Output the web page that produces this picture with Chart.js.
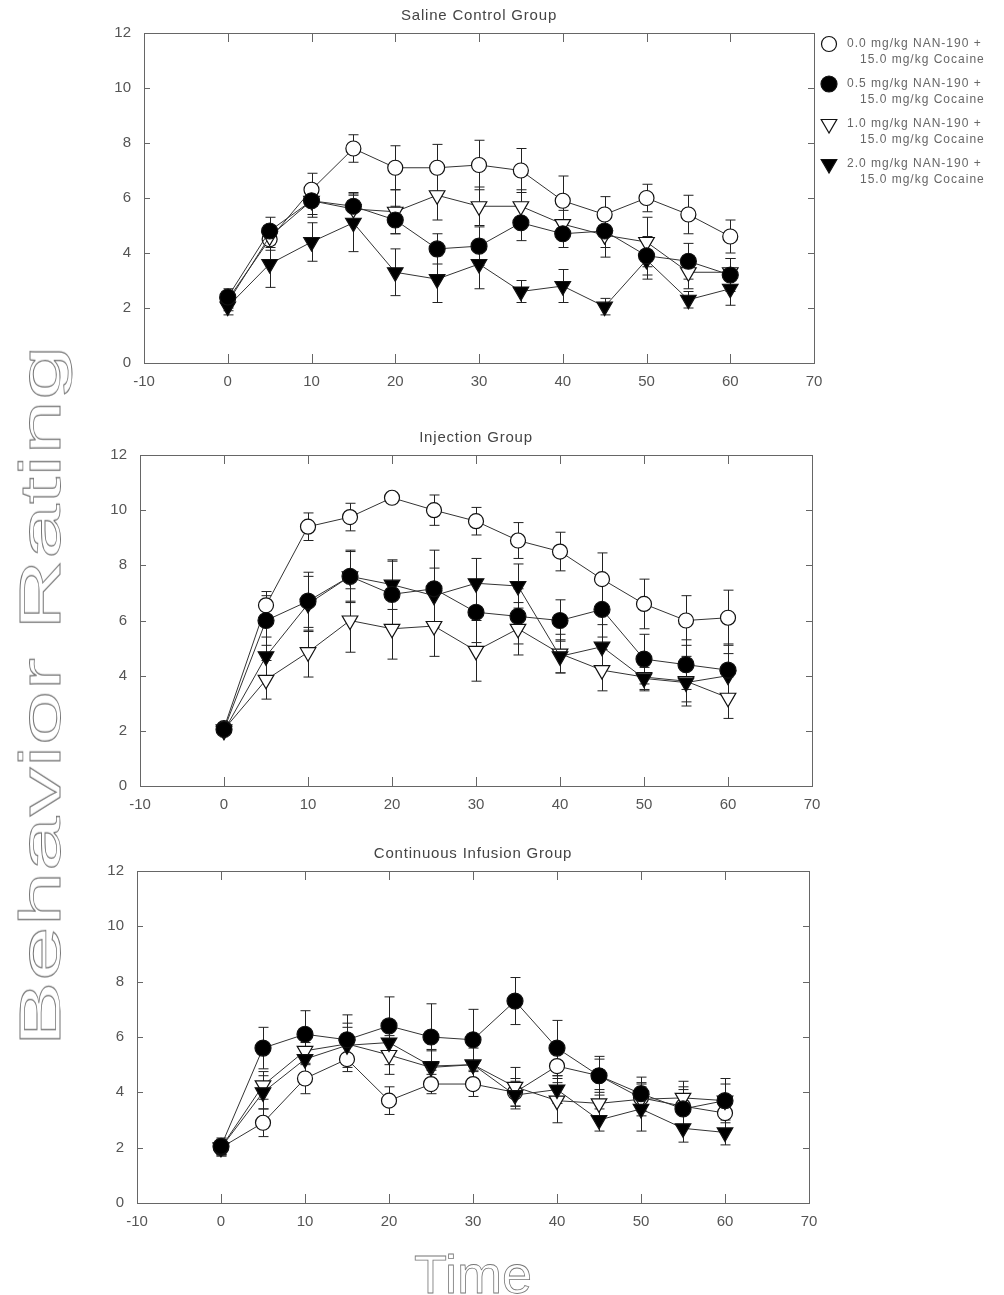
<!DOCTYPE html>
<html>
<head>
    <title>Behavior Rating by NAN-190 Dose</title>
    <script src="https://cdn.jsdelivr.net/npm/chart.js"></script>
    <style>
        body {
            margin: 0;
            background: #fff;
            font-family: 'Liberation Sans', Arial, sans-serif;
        }
        .page {
            position: relative;
            width: 1004px;
            height: 1295px;
            overflow: hidden;
        }
        canvas { position: absolute; left: 0; }
        .big-label {
            position: absolute;
            white-space: nowrap;
            color: transparent;
            -webkit-text-stroke: 0.8px #777;
        }
        #yTitle {
            left: 40px;
            top: 696px;
            font-size: 58px;
            line-height: 58px;
            transform: translate(-50%, -50%) rotate(-90deg) scaleX(1.7);
        }
        #xTitle {
            left: 473px;
            top: 1247px;
            font-size: 54px;
            line-height: 54px;
            transform: translateX(-50%);
        }
    </style>
</head>
<body>
<div class="page">
    <canvas id="salineChart" width="1004" height="400" style="top:0px"></canvas>
    <canvas id="injectionChart" width="1004" height="400" style="top:420px"></canvas>
    <canvas id="infusionChart" width="1004" height="400" style="top:835px"></canvas>
    <div class="big-label" id="yTitle">Behavior Rating</div>
    <div class="big-label" id="xTitle">Time</div>
</div>

<script>
    // time points (min)
    const times = [0, 5, 10, 15, 20, 25, 30, 35, 40, 45, 50, 55, 60];

    const panelTitles = ['Saline Control Group', 'Injection Group', 'Continuous Infusion Group'];
    const doseLabels = [
        ['0.0 mg/kg NAN-190 +', '15.0 mg/kg Cocaine'],
        ['0.5 mg/kg NAN-190 +', '15.0 mg/kg Cocaine'],
        ['1.0 mg/kg NAN-190 +', '15.0 mg/kg Cocaine'],
        ['2.0 mg/kg NAN-190 +', '15.0 mg/kg Cocaine']
    ];

    // Saline control group: means and SEM
    const saline00 = [2.3, 4.5, 6.3, 7.8, 7.1, 7.1, 7.2, 7.0, 5.9, 5.4, 6.0, 5.4, 4.6];
    const saline05 = [2.4, 4.8, 5.9, 5.7, 5.2, 4.15, 4.25, 5.1, 4.7, 4.8, 3.9, 3.7, 3.2];
    const saline10 = [2.2, 4.6, 5.9, 5.6, 5.5, 6.1, 5.7, 5.7, 5.05, 4.65, 4.4, 3.3, 3.3];
    const saline20 = [2.05, 3.6, 4.4, 5.1, 3.3, 3.05, 3.6, 2.6, 2.8, 2.05, 3.75, 2.3, 2.7];
    const salineErr00 = [0.3, 0.4, 0.6, 0.5, 0.8, 0.85, 0.9, 0.8, 0.9, 0.65, 0.5, 0.7, 0.6];
    const salineErr05 = [0.3, 0.5, 0.6, 0.5, 0.5, 0.55, 0.7, 0.65, 0.5, 0.6, 0.7, 0.65, 0.6];
    const salineErr10 = [0.3, 0.4, 0.5, 0.5, 0.8, 0.9, 0.7, 0.6, 0.5, 0.8, 0.9, 0.6, 0.5];
    const salineErr20 = [0.3, 0.85, 0.7, 1.05, 0.85, 0.85, 0.9, 0.4, 0.6, 0.3, 0.7, 0.3, 0.6];

    // Injection group
    const injection00 = [2.1, 6.55, 9.4, 9.75, 10.45, 10.0, 9.6, 8.9, 8.5, 7.5, 6.6, 6.0, 6.1];
    const injection05 = [2.05, 6.0, 6.7, 7.6, 6.95, 7.15, 6.3, 6.15, 6.0, 6.4, 4.6, 4.4, 4.2];
    const injection10 = [2.05, 3.85, 4.85, 6.0, 5.7, 5.8, 4.9, 5.7, 4.8, 4.2, 3.95, 3.8, 3.2];
    const injection20 = [2.0, 4.7, 6.6, 7.6, 7.3, 6.9, 7.35, 7.25, 4.7, 5.05, 3.9, 3.75, 4.0];
    const injectionErr00 = [0.1, 0.5, 0.5, 0.5, 0.15, 0.55, 0.5, 0.65, 0.7, 0.95, 0.9, 0.9, 1.0];
    const injectionErr05 = [0.1, 0.9, 1.05, 0.95, 1.2, 1.4, 1.1, 1.0, 0.75, 1.0, 0.9, 0.9, 0.95];
    const injectionErr10 = [0.1, 0.7, 0.9, 1.15, 1.1, 1.1, 1.1, 0.95, 0.7, 0.75, 0.5, 0.9, 0.75];
    const injectionErr20 = [0.1, 0.7, 1.0, 0.9, 0.9, 1.0, 0.9, 0.8, 0.6, 0.8, 0.4, 0.7, 0.8];

    // Continuous infusion group
    const infusion00 = [2.0, 2.9, 4.5, 5.2, 3.7, 4.3, 4.3, 4.0, 4.95, 4.6, 3.8, 3.5, 3.25];
    const infusion05 = [2.05, 5.6, 6.1, 5.9, 6.4, 6.0, 5.9, 7.3, 5.6, 4.6, 3.95, 3.4, 3.7];
    const infusion10 = [2.0, 4.25, 5.5, 5.75, 5.35, 4.9, 5.0, 4.2, 3.7, 3.6, 3.75, 3.8, 3.7];
    const infusion20 = [2.0, 4.0, 5.2, 5.7, 5.8, 4.95, 5.0, 3.9, 4.1, 3.0, 3.4, 2.7, 2.55];
    const infusionErr00 = [0.25, 0.5, 0.55, 0.45, 0.5, 0.35, 0.45, 0.5, 0.6, 0.6, 0.5, 0.7, 0.6];
    const infusionErr05 = [0.3, 0.75, 0.85, 0.9, 1.05, 1.2, 1.1, 0.85, 1.0, 0.7, 0.6, 0.7, 0.8];
    const infusionErr10 = [0.3, 0.5, 0.5, 0.6, 0.7, 0.6, 0.6, 0.7, 0.8, 0.5, 0.6, 0.6, 0.6];
    const infusionErr20 = [0.3, 0.6, 0.6, 0.8, 0.8, 0.6, 0.7, 0.5, 0.5, 0.4, 0.8, 0.5, 0.45];

    // marker look per dose (open circle, filled circle, open triangle, filled triangle)
    const markers = [
        { style: 'circle', fill: '#ffffff', radius: 7.5, rotation: 0, order: 3 },
        { style: 'circle', fill: '#000000', radius: 8, rotation: 0, order: 0 },
        { style: 'triangle', fill: '#ffffff', radius: 9, rotation: 180, order: 2 },
        { style: 'triangle', fill: '#000000', radius: 9, rotation: 180, order: 1 }
    ];

    Chart.defaults.font.family = "'Liberation Sans', Arial, sans-serif";
    Chart.defaults.color = '#555';

    function strokeLine(ctx, x1, y1, x2, y2) {
        ctx.beginPath();
        ctx.moveTo(x1, y1);
        ctx.lineTo(x2, y2);
        ctx.stroke();
    }

    // frame with inward ticks, error bars, title and (first panel) legend
    const framePlugin = {
        id: 'frame',
        beforeDatasetsDraw(chart, args, opts) {
            const { ctx, chartArea: a, scales: { x, y } } = chart;
            ctx.save();
            ctx.strokeStyle = '#666';
            ctx.lineWidth = 1;
            ctx.strokeRect(Math.round(a.left) + 0.5, Math.round(a.top) + 0.5,
                Math.round(a.right - a.left), Math.round(a.bottom - a.top));
            for (let v = 0; v <= 60; v += 10) {
                const px = Math.round(x.getPixelForValue(v)) + 0.5;
                strokeLine(ctx, px, a.top, px, a.top + 9);
                strokeLine(ctx, px, a.bottom, px, a.bottom - 9);
            }
            for (let v = 2; v <= 10; v += 2) {
                const py = Math.round(y.getPixelForValue(v)) + 0.5;
                strokeLine(ctx, a.left, py, a.left + 6, py);
                strokeLine(ctx, a.right, py, a.right - 6, py);
            }

            // error bars
            ctx.strokeStyle = '#222';
            chart.data.datasets.forEach((ds, i) => {
                const err = opts.errors[i];
                ds.data.forEach((p, j) => {
                    const px = Math.round(x.getPixelForValue(p.x)) + 0.5;
                    const top = y.getPixelForValue(p.y + err[j]);
                    const bot = y.getPixelForValue(p.y - err[j]);
                    strokeLine(ctx, px, top, px, bot);
                    strokeLine(ctx, px - 5, top, px + 5, top);
                    strokeLine(ctx, px - 5, bot, px + 5, bot);
                });
            });
            ctx.restore();
        },
        afterDraw(chart, args, opts) {
            const { ctx, chartArea: a } = chart;
            ctx.save();
            ctx.fillStyle = '#444';
            ctx.font = "15px 'Liberation Sans', Arial, sans-serif";
            ctx.letterSpacing = '0.8px';
            ctx.textAlign = 'center';
            ctx.textBaseline = 'middle';
            ctx.fillText(opts.title, (a.left + a.right) / 2, a.top - 17);

            if (opts.showLegend) {
                const lx = a.right + 15;
                ctx.letterSpacing = '1px';
                ctx.font = "12px 'Liberation Sans', Arial, sans-serif";
                ctx.textAlign = 'left';
                doseLabels.forEach((lines, i) => {
                    const m = markers[i];
                    const ly = a.top + 11 + i * 40;
                    ctx.fillStyle = m.fill;
                    ctx.strokeStyle = '#111';
                    ctx.lineWidth = 1.2;
                    Chart.helpers.drawPoint(ctx, {
                        pointStyle: m.style, rotation: m.rotation,
                        radius: m.radius, borderWidth: 1.2
                    }, lx, ly);
                    ctx.fillStyle = '#666';
                    ctx.fillText(lines[0], lx + 18, ly);
                    ctx.fillText(lines[1], lx + 31, ly + 16);
                });
            }
            ctx.restore();
        }
    };

    function buildPanel(id, title, series, errors, area, showLegend) {
        const canvas = document.getElementById(id);
        const W = canvas.width, H = canvas.height;
        const xAxisH = 30;
        return new Chart(canvas, {
            type: 'line',
            data: {
                datasets: series.map((vals, i) => ({
                    label: doseLabels[i].join(' '),
                    data: times.map((t, j) => ({ x: t, y: vals[j] })),
                    borderColor: '#333',
                    borderWidth: 1,
                    tension: 0,
                    pointStyle: markers[i].style,
                    pointRotation: markers[i].rotation,
                    pointRadius: markers[i].radius,
                    pointBackgroundColor: markers[i].fill,
                    pointBorderColor: '#111',
                    pointBorderWidth: 1.2,
                    order: markers[i].order
                }))
            },
            options: {
                responsive: false,
                animation: false,
                events: [],
                layout: {
                    padding: { left: 0, top: area.top, right: W - area.right, bottom: H - area.bottom - xAxisH }
                },
                plugins: {
                    legend: { display: false },
                    tooltip: { enabled: false },
                    frame: { title, errors, showLegend }
                },
                scales: {
                    x: {
                        type: 'linear', min: -10, max: 70,
                        ticks: { stepSize: 10, padding: 10, font: { size: 15 }, color: '#555' },
                        grid: { display: false, drawTicks: false },
                        border: { display: false },
                        afterFit: s => { s.height = xAxisH; }
                    },
                    y: {
                        min: 0, max: 12,
                        ticks: { stepSize: 2, padding: 13, font: { size: 15 }, color: '#555' },
                        grid: { display: false, drawTicks: false },
                        border: { display: false },
                        afterFit: s => { s.width = area.left; }
                    }
                }
            },
            plugins: [framePlugin]
        });
    }

    buildPanel('salineChart', panelTitles[0],
        [saline00, saline05, saline10, saline20],
        [salineErr00, salineErr05, salineErr10, salineErr20],
        { left: 144, top: 33, right: 814, bottom: 363 }, true);

    buildPanel('injectionChart', panelTitles[1],
        [injection00, injection05, injection10, injection20],
        [injectionErr00, injectionErr05, injectionErr10, injectionErr20],
        { left: 140, top: 35, right: 812, bottom: 366 }, false);

    buildPanel('infusionChart', panelTitles[2],
        [infusion00, infusion05, infusion10, infusion20],
        [infusionErr00, infusionErr05, infusionErr10, infusionErr20],
        { left: 137, top: 36, right: 809, bottom: 368 }, false);
</script>
</body>
</html>
